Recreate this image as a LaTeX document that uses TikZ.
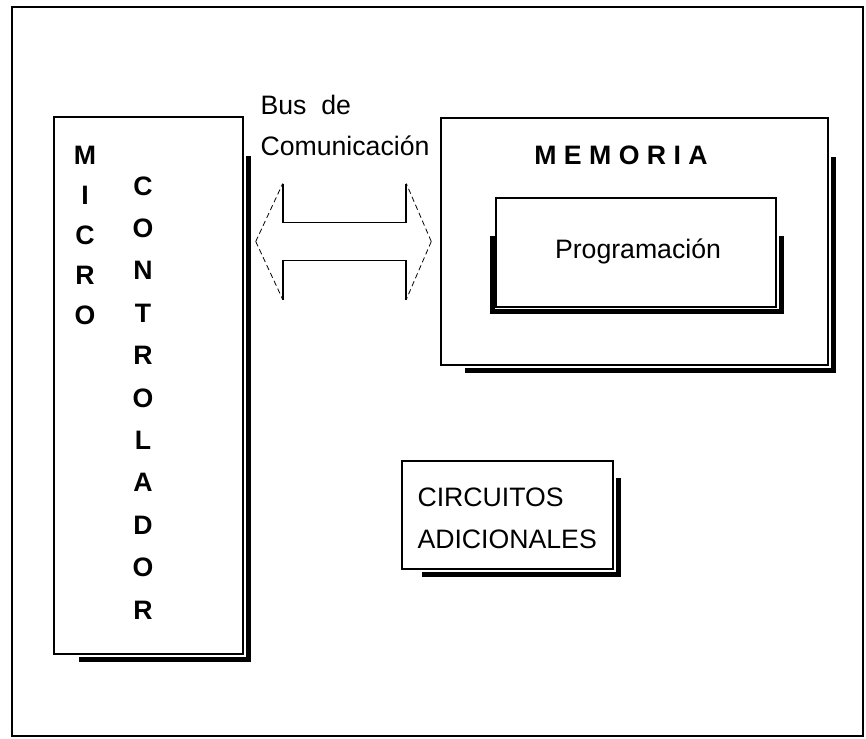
\documentclass[tikz,border=0pt]{standalone}
\usepackage{fontspec}
\setmainfont{Liberation Sans}
\usetikzlibrary{calc}

\tikzset{every picture/.style={line width=0.75pt}}
\tikzset{
  framebox/.style={line width=1.1pt},
  blockbox/.style={draw, line width=1.1pt, inner sep=0pt},
  dropshade/.style={line width=4pt},
  busline/.style={line width=1.4pt},
  busdash/.style={line width=0.6pt, dash pattern=on 4pt off 2.5pt},
  bigtext/.style={font=\fontsize{20}{31}\selectfont, inner sep=0pt},
  stacktext/.style={font=\bfseries\fontsize{20}{30}\selectfont, align=center, inner sep=0pt}
}

\begin{document}
\begin{tikzpicture}[x=0.75pt,y=0.75pt,yscale=-1,xscale=1]
\useasboundingbox (0,0) rectangle (866,738);

%Shape: Outer frame
\draw[framebox] (12,7) rectangle (863,736);
\draw[line width=1.8pt] (12,7) -- (863,7);

%Shape: Micro box
\node[blockbox, minimum width=141.75pt, minimum height=402.75pt] (micro) at (148.5,385.5) {};
\draw[dropshade] ($(micro.north east)+(4.5,40)$) -- ($(micro.south east)+(4.5,4.5)$) -- ($(micro.south west)+(26,4.5)$);
%Shape: Memoria box
\node[blockbox, minimum width=290.25pt, minimum height=185.25pt] (mem) at (634.5,241.5) {};
\draw[dropshade] ($(mem.north east)+(4.5,40)$) -- ($(mem.south east)+(4.5,4.5)$) -- ($(mem.south west)+(25,4.5)$);
%Shape: Programacion box
\node[blockbox, minimum width=210pt, minimum height=81.75pt] (prog) at (636,252.5) {};
\draw[dropshade] ($(prog.north west)+(-2.5,39)$) -- ($(prog.south west)+(-2.5,3.5)$) -- ($(prog.south east)+(4.5,3.5)$) -- ($(prog.north east)+(4.5,39)$);
%Shape: Circuitos box
\node[blockbox, minimum width=158.25pt, minimum height=81pt] (circ) at (507.5,515) {};
\draw[dropshade] ($(circ.north east)+(4.5,18)$) -- ($(circ.south east)+(4.5,4.5)$) -- ($(circ.south west)+(21,4.5)$);

%Double arrow (bus)
\coordinate (tipL) at ($(micro.east |- mem.west)+(12,0)$);
\coordinate (tipR) at ($(mem.west)+(-9,0)$);
\draw[busdash] (tipL) -- ++(27,-58);
\draw[busdash] (tipL) -- ++(27,58);
\draw[busdash] (tipR) -- ++(-25,-58);
\draw[busdash] (tipR) -- ++(-25,58);
\draw[busline] ($(tipL)+(27,-58)$) -- ($(tipL)+(27,-19)$) -- ($(tipR)+(-25,-19)$) -- ($(tipR)+(-25,-58)$);
\draw[busline] ($(tipL)+(27,58)$) -- ($(tipL)+(27,19)$) -- ($(tipR)+(-25,19)$) -- ($(tipR)+(-25,58)$);

% Text Node
\node[stacktext, anchor=north] (microtxt) at (85,146) {M\\I\\C\\R\\O};
% Text Node
\node[stacktext, font=\bfseries\fontsize{20}{31.8}\selectfont, anchor=north] (contxt) at (143,176) {C\\O\\N\\T\\R\\O\\L\\A\\D\\O\\R};
% Text Node
\node[bigtext, anchor=north west, align=left, font=\fontsize{20}{30.75}\selectfont] (bus) at (260,95) {Bus\ \ de\\Comunicación};
% Text Node
\node[bigtext, font=\bfseries\fontsize{20}{24}\selectfont, anchor=base] (memtxt) at (621,165) {M E M O R I A};
% Text Node
\node[bigtext, anchor=base] (progtxt) at (638,258) {Programación};
% Text Node
\node[bigtext, anchor=north west, align=left, font=\fontsize{20}{31.5}\selectfont] (circtxt) at (417,487) {CIRCUITOS\\ADICIONALES};

\end{tikzpicture}
\end{document}
